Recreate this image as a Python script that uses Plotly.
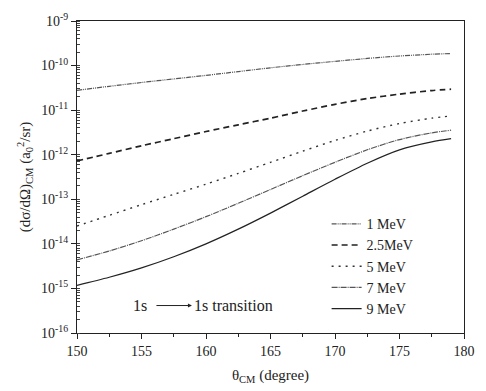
import plotly.graph_objects as go

theta = [150, 152.5, 155, 157.5, 160, 162.5, 165, 167.5, 170, 172.5, 175, 177.5, 179]
log_1mev = [-10.555, -10.465, -10.38, -10.30, -10.22, -10.135, -10.05, -9.975, -9.905, -9.84, -9.785, -9.745, -9.73]
log_2p5mev = [-12.14, -11.97, -11.80, -11.64, -11.48, -11.33, -11.18, -11.02, -10.87, -10.74, -10.64, -10.56, -10.53]
log_5mev = [-13.60, -13.36, -13.12, -12.89, -12.66, -12.42, -12.17, -11.92, -11.68, -11.47, -11.30, -11.18, -11.13]
log_7mev = [-14.36, -14.16, -13.93, -13.67, -13.39, -13.09, -12.78, -12.47, -12.17, -11.89, -11.66, -11.51, -11.45]
log_9mev = [-14.93, -14.75, -14.54, -14.29, -14.00, -13.67, -13.31, -12.93, -12.55, -12.19, -11.89, -11.71, -11.64]

names = ["1 MeV", "2.5MeV", "5 MeV", "7 MeV", "9 MeV"]
series = [log_1mev, log_2p5mev, log_5mev, log_7mev, log_9mev]
styles = [
    dict(color="#555555", width=1.2, dash="5px,1px,1px,1px,1px,1px"),
    dict(color="#222222", width=1.7, dash="6px,4px"),
    dict(color="#333333", width=1.4, dash="2px,5px"),
    dict(color="#555555", width=1.2, dash="6px,1px,1px,1px"),
    dict(color="#222222", width=1.2),
]

fig = go.Figure()
for n, s, st in zip(names, series, styles):
    fig.add_trace(go.Scatter(
        x=theta, y=[10 ** v for v in s], mode="lines", name=n,
        line=dict(shape="spline", smoothing=0.8, **st)))

font_fam = "Liberation Serif"
tickvals = [10 ** e for e in range(-16, -8)]
ticktext = [f"10<sup>{e}</sup>" for e in range(-16, -8)]

fig.update_layout(
    width=486, height=391,
    margin=dict(l=77, r=11, t=17, b=50),
    paper_bgcolor="white", plot_bgcolor="white",
    font=dict(family=font_fam, size=14, color="#222"),
    showlegend=True,
    legend=dict(x=0.645, y=0.40, xanchor="left", yanchor="top",
                bgcolor="rgba(0,0,0,0)", font=dict(size=14, family=font_fam),
                tracegroupgap=0, itemwidth=30),
    xaxis=dict(
        range=[150, 180], tickvals=[150, 155, 160, 165, 170, 175, 180],
        ticks="outside", ticklen=5, tickwidth=1, tickcolor="#222",
        minor=dict(dtick=2.5, tick0=150, ticks="outside", ticklen=3, tickcolor="#222"),
        showline=True, linecolor="#222", linewidth=1.3, mirror=True,
        showgrid=False, zeroline=False,
        tickfont=dict(size=14, family=font_fam),
        title=dict(text="θ<sub>CM</sub> (degree)", font=dict(size=15, family=font_fam), standoff=11),
    ),
    yaxis=dict(
        type="log", range=[-16, -9],
        tickvals=tickvals, ticktext=ticktext,
        ticks="outside", ticklen=5, tickwidth=1, tickcolor="#222",
        minor=dict(ticks="inside", ticklen=3, tickcolor="#444", dtick="D1"),
        showline=True, linecolor="#222", linewidth=1.3, mirror=True,
        showgrid=False, zeroline=False,
        tickfont=dict(size=14, family=font_fam),
        title=dict(text="(dσ/dΩ)<sub>CM</sub> (a<sub>0</sub><sup>2</sup>/sr)",
                   font=dict(size=15, family=font_fam), standoff=6),
    ),
)

fig.add_annotation(x=0.163, y=0.088, xref="paper", yref="paper", text="1s",
                   showarrow=False, xanchor="center", yanchor="middle",
                   font=dict(size=16, family=font_fam))
fig.add_annotation(x=0.298, y=0.088, xref="paper", yref="paper", text="1s transition",
                   showarrow=False, xanchor="left", yanchor="middle",
                   font=dict(size=16, family=font_fam))
fig.add_annotation(x=0.297, y=0.088, xref="paper", yref="paper",
                   ax=-37, ay=0, text="", showarrow=True,
                   arrowhead=2, arrowsize=0.8, arrowwidth=1, arrowcolor="#222")

fig.write_html("out.html")
